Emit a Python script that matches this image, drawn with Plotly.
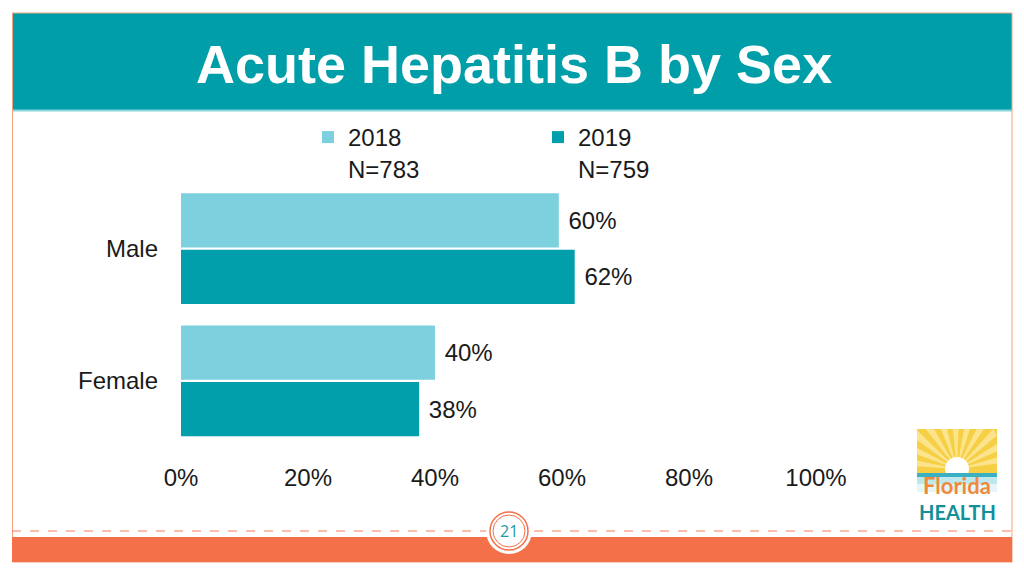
import math
import plotly.graph_objects as go

# ---- data ----
categories = ["Male", "Female"]
years = ["2018", "2019"]
counts = ["N=783", "N=759"]
pct_2018 = [59.5, 40.0]
pct_2019 = [62.0, 37.5]
x_ticks = [0, 20, 40, 60, 80, 100]
x_tick_labels = ["0%", "20%", "40%", "60%", "80%", "100%"]

W, H = 1024, 576
OFF = 8  # page body margin offset
def px(x):
    return (x - OFF) / W
def py(y):
    return 1 - (y - OFF) / H

LIGHT = "#7DD1DE"
TEAL = "#009FAB"
ORANGE = "#F47049"
FONT = "Liberation Sans, Arial, sans-serif"

def lab(v):
    return f"{int(v + 0.5)}%"

fig = go.Figure()
for name, cnt, vals, col in [(years[0], counts[0], pct_2018, LIGHT), (years[1], counts[1], pct_2019, TEAL)]:
    fig.add_trace(go.Bar(
        y=categories, x=vals, orientation="h",
        name=f"{name}<br>{cnt}",
        marker=dict(color=col, line=dict(width=0)),
        text=[" " + lab(v) for v in vals],
        textposition="outside",
        textfont=dict(size=24, color="#1a1a1a", family=FONT),
        cliponaxis=False,
        hoverinfo="skip",
    ))

shapes = []
# header band
shapes.append(dict(type="rect", xref="paper", yref="paper", x0=px(12), x1=px(1012), y0=py(110), y1=py(13),
                   fillcolor="#009EA9", line=dict(width=0), layer="below"))
shapes.append(dict(type="line", xref="paper", yref="paper", x0=px(12), x1=px(1012), y0=py(110.5), y1=py(110.5),
                   line=dict(color="#8AD6DE", width=2)))
# slide border
shapes.append(dict(type="rect", xref="paper", yref="paper", x0=px(12.5), x1=px(1012), y0=py(562), y1=py(13),
                   fillcolor="rgba(0,0,0,0)", line=dict(color="#F4A07F", width=1)))
# dashed line
shapes.append(dict(type="line", xref="paper", yref="paper", x0=px(12), x1=px(1012), y0=py(531), y1=py(531),
                   line=dict(color="#F47C5A", width=1, dash="dash")))
# footer bar
shapes.append(dict(type="rect", xref="paper", yref="paper", x0=px(12), x1=px(1012), y0=py(562), y1=py(537),
                   fillcolor=ORANGE, line=dict(width=0)))
# page circle
shapes.append(dict(type="circle", xref="paper", yref="paper", x0=px(486), x1=px(532), y0=py(554), y1=py(508),
                   fillcolor="white", line=dict(color="white", width=0)))
shapes.append(dict(type="circle", xref="paper", yref="paper", x0=px(490), x1=px(528), y0=py(550), y1=py(512),
                   fillcolor="white", line=dict(color="#F47049", width=1.5)))
shapes.append(dict(type="circle", xref="paper", yref="paper", x0=px(493), x1=px(525), y0=py(547), y1=py(515),
                   fillcolor="white", line=dict(color="#F47049", width=1)))

# logo: yellow square with sun rays
LX0, LX1, LY0, LY1 = 917, 997, 429, 474
shapes.append(dict(type="rect", xref="paper", yref="paper", x0=px(LX0), x1=px(LX1), y0=py(LY1), y1=py(LY0),
                   fillcolor="#F7CF45", line=dict(width=0)))
cx, cy = 957, 469
def edge_pt(deg):
    a = math.radians(deg)
    dx, dy = math.cos(a), -math.sin(a)
    ts = []
    if abs(dx) > 1e-9:
        ts.append(((LX1 if dx > 0 else LX0) - cx) / dx)
    if dy < 0:
        ts.append((LY0 - cy) / dy)
    t = min(ts)
    return cx + dx * t, cy + dy * t
for start in range(8, 172, 16):
    p1 = edge_pt(start)
    p2 = edge_pt(start + 8)
    path = f"M{px(cx)},{py(cy)} L{px(p1[0])},{py(p1[1])} L{px(p2[0])},{py(p2[1])} Z"
    shapes.append(dict(type="path", xref="paper", yref="paper", path=path,
                       fillcolor="#FBE48C", line=dict(width=0)))
shapes.append(dict(type="circle", xref="paper", yref="paper", x0=px(945), x1=px(969), y0=py(481), y1=py(457),
                   fillcolor="white", line=dict(width=0)))
shapes.append(dict(type="rect", xref="paper", yref="paper", x0=px(917), x1=px(997), y0=py(477), y1=py(473),
                   fillcolor="#3BB0C2", line=dict(width=0)))
shapes.append(dict(type="rect", xref="paper", yref="paper", x0=px(917), x1=px(997), y0=py(484), y1=py(477),
                   fillcolor="#BFE7EE", line=dict(width=0)))
shapes.append(dict(type="rect", xref="paper", yref="paper", x0=px(917), x1=px(997), y0=py(492), y1=py(484),
                   fillcolor="#E6F6F8", line=dict(width=0)))

annotations = [
    dict(text="<b>Acute Hepatitis B by Sex</b>", xref="paper", yref="paper", x=px(514), y=py(64),
         xanchor="center", yanchor="middle", showarrow=False,
         font=dict(size=54, color="white", family=FONT)),
    dict(text="21", xref="paper", yref="paper", x=px(509), y=py(531), xanchor="center", yanchor="middle",
         showarrow=False, font=dict(size=16, color="#1A9AA8", family="Open Sans, sans-serif")),
    dict(text="<b>Florida</b>", xref="paper", yref="paper", x=px(957), y=py(485), xanchor="center", yanchor="middle",
         showarrow=False, font=dict(size=22, color="#EF8A3C", family="Lato, sans-serif")),
    dict(text="<b>HEALTH</b>", xref="paper", yref="paper", x=px(957), y=py(512), xanchor="center", yanchor="middle",
         showarrow=False, font=dict(size=20, color="#13909A", family="Lato, sans-serif")),
]

fig.update_layout(
    width=W, height=H,
    margin=dict(l=0, r=0, t=0, b=0, autoexpand=False),
    paper_bgcolor="white", plot_bgcolor="white",
    barmode="group", bargap=0.145, bargroupgap=0.04,
    font=dict(family=FONT, size=24, color="#1a1a1a"),
    xaxis=dict(domain=[px(181), px(816)], range=[0, 100], tickvals=x_ticks, ticktext=x_tick_labels,
               showgrid=False, zeroline=False, showline=False, ticks="", ticklabelstandoff=14,
               tickfont=dict(size=24), fixedrange=True, automargin=False),
    yaxis=dict(domain=[py(447), py(182.5)], range=[1.5, -0.5], categoryorder="array", categoryarray=categories,
               showgrid=False, zeroline=False, showline=False, ticks="", ticklabelstandoff=22,
               tickfont=dict(size=24), fixedrange=True, automargin=False),
    legend=dict(orientation="h", x=px(308), y=py(115), xanchor="left", yanchor="top",
                entrywidth=185, entrywidthmode="pixels", valign="top",
                font=dict(size=24, color="#1a1a1a", family=FONT), bgcolor="rgba(0,0,0,0)",
                itemclick=False, itemdoubleclick=False),
    shapes=shapes, annotations=annotations,
    showlegend=True,
)

fig.write_html("out.html")
